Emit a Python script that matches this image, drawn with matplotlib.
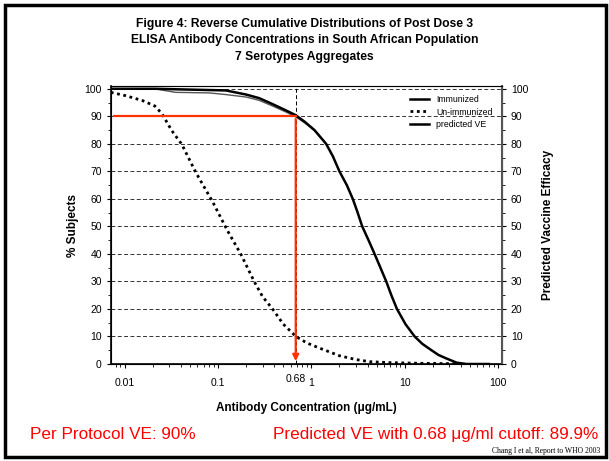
import numpy as np
import matplotlib
matplotlib.use("Agg")
from matplotlib import pyplot as plt
from matplotlib.patches import Rectangle
from matplotlib.ticker import FixedLocator, NullFormatter

plt.rcParams['font.family'] = ['Liberation Sans', 'DejaVu Sans']

# curva dos imunizados
imun_x = [0.007, 0.021, 0.05, 0.121, 0.2, 0.276, 0.38, 0.53, 0.68, 0.85, 1.08, 1.44, 1.7,
          2.0, 2.4, 2.78, 3.1, 3.51, 4.1, 4.76, 5.5, 6.35, 7.2, 8.27, 10.2, 12.8, 15.5,
          19.4, 23, 28.1, 36, 46, 80]
imun_y = [100, 100, 99.7, 99.4, 97.9, 96.6, 94.5, 92.2, 90.4, 88, 85, 80, 75.5,
          70, 65, 60, 55.5, 50, 45, 40, 35, 30, 25, 20, 14.5, 10, 7.3,
          5, 3.3, 2, 0.5, 0, 0]

# curva dos nao imunizados
nimun_x = [0.0071, 0.0102, 0.0154, 0.021, 0.025, 0.032, 0.041, 0.0575, 0.087, 0.126,
           0.175, 0.244, 0.3, 0.384, 0.5, 0.684, 0.9, 1.22, 2.0, 3.03, 4.2, 6.9, 15.6, 39]
nimun_y = [98.7, 97.5, 95.75, 93.75, 91, 84.75, 79.75, 69.75, 59.1, 48.5,
           40, 30, 24.5, 20, 14.5, 10, 7.6, 5.8, 3, 1.6, 0.85, 0.5, 0.25, 0.1]

# VE previsto
ve_x = [0.021, 0.035, 0.08, 0.121, 0.2, 0.276, 0.38, 0.53, 0.68, 0.85, 1.08, 1.44]
ve_y = [100, 98.7, 98.5, 97.9, 97.0, 95.8, 93.8, 91.6, 89.8, 87.6, 84.8, 80]

corte = 0.68
ve_corte = 90
yticks = [0, 10, 20, 30, 40, 50, 60, 70, 80, 90, 100]
xticks = [0.01, 0.1, 1, 10, 100]
xticklabels = ['0.01', '0.1', '1', '10', '100']

fig = plt.figure(figsize=(6.09, 4.61), dpi=100)
ax = fig.add_axes([0.182, 0.2104, 0.642, 0.603])

ax.set_xscale('log')
ax.set_xlim(0.0071, 110)
ax.set_ylim(0, 101)

for t in yticks[1:]:
    ax.axhline(t, color='#333333', lw=0.7, ls=(0, (4, 2.5)), zorder=1)
ax.axvline(corte, color='black', lw=0.7, ls=(0, (4, 2.5)), zorder=1)

ax.plot(ve_x, ve_y, color='#555555', lw=1.0, zorder=3)
l1, = ax.plot(imun_x, imun_y, color='black', lw=1.8, zorder=4)
l2, = ax.plot(nimun_x, nimun_y, color='black', lw=2.0, ls=(0, (1, 1.3)), zorder=4)
l3, = ax.plot([], [], color='black', lw=1.8)

# linhas vermelhas
verm = '#ff3300'
ax.plot([0.0076, corte], [ve_corte, ve_corte], color=verm, lw=1.6, zorder=5)
ax.annotate('', xy=(corte, 0), xytext=(corte, ve_corte),
            arrowprops=dict(arrowstyle='-|>', color=verm, lw=1.6, mutation_scale=9),
            zorder=5)

ax.set_yticks(yticks)
ax.yaxis.set_minor_locator(FixedLocator(np.arange(5, 100, 10)))
ax.set_xticks(xticks)
ax.set_xticklabels(xticklabels)
ax.tick_params(axis='both', labelsize=7.5, length=3, width=0.8)
ax.tick_params(axis='x', pad=7)
ax.tick_params(which='minor', length=2, width=0.6)
ax.xaxis.set_minor_formatter(NullFormatter())
ax.text(corte, -3.5, '0.68', ha='center', va='top', fontsize=7.5)

ax2 = ax.twinx()
ax2.set_ylim(0, 101)
ax2.set_yticks(yticks)
ax2.yaxis.set_minor_locator(FixedLocator(np.arange(5, 100, 10)))
ax2.tick_params(axis='y', labelsize=7.5, length=3, width=0.8)
ax2.tick_params(which='minor', length=2, width=0.6)
ax2.spines['right'].set_color('#555555')
ax2.spines['right'].set_linewidth(1.5)
ax.spines['left'].set_linewidth(1.2)
ax.spines['bottom'].set_linewidth(1.2)
ax.spines['top'].set_color('#777777')

ax.set_ylabel('% Subjects', fontsize=8.5, fontweight='bold', labelpad=4)
ax2.set_ylabel('Predicted Vaccine Efficacy', fontsize=8.5, fontweight='bold', labelpad=10)
ax.set_xlabel('Antibody Concentration (\u03bcg/mL)', fontsize=8.5, fontweight='bold', labelpad=10)

leg = ax.legend([l1, l2, l3], ['Immunized', 'Un-immunized', 'predicted VE'],
                loc='upper right', bbox_to_anchor=(0.99, 0.985), frameon=False,
                fontsize=6.3, handlelength=2.2, labelspacing=0.35, borderaxespad=0.2)

fig.text(0.5, 0.962, 'Figure 4: Reverse Cumulative Distributions of Post Dose 3\n'
         'ELISA Antibody Concentrations in South African Population\n'
         '7 Serotypes Aggregates', ha='center', va='top', fontsize=8.7,
         fontweight='bold', linespacing=1.5)

fig.text(0.05, 0.042, 'Per Protocol VE: 90%', color='red', fontsize=12.3, va='bottom')
fig.text(0.982, 0.042, 'Predicted VE with 0.68 \u03bcg/ml cutoff: 89.9%', color='red',
         fontsize=12.3, va='bottom', ha='right')
fig.text(0.985, 0.014, 'Chang I et al, Report to WHO 2003', fontsize=5.5,
         family=['Liberation Serif', 'DejaVu Serif'], ha='right', va='bottom')

fig.patches.append(Rectangle((0.0075, 0.0085), 0.987, 0.98, transform=fig.transFigure,
                             fill=False, edgecolor='black', lw=2.5))

fig.savefig('out.png', dpi=100)
